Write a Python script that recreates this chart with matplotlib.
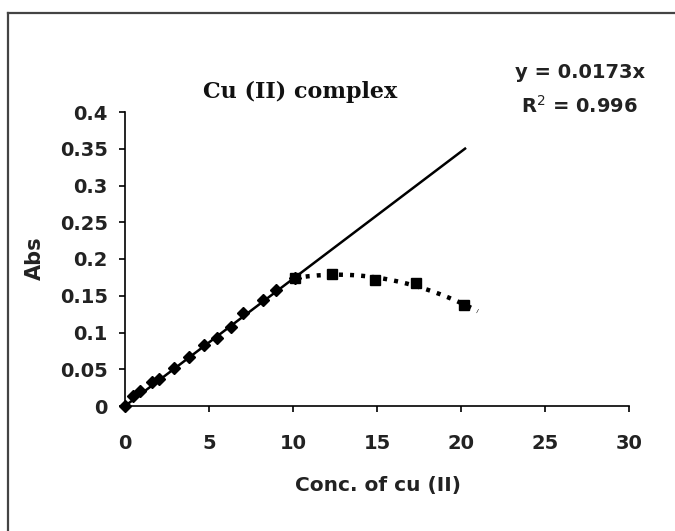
import numpy as np
import matplotlib
matplotlib.use("Agg")
import matplotlib.pyplot as plt
from matplotlib.lines import Line2D

# Calibration series (linear region)
conc_lin = [0, 0.5, 0.9, 1.6, 2.0, 2.9, 3.8, 4.7, 5.5, 6.3, 7.0, 8.2, 9.0, 10.1]
abs_lin = [0, 0.013, 0.020, 0.032, 0.037, 0.052, 0.066, 0.083, 0.092, 0.108,
           0.126, 0.144, 0.158, 0.174]

# High-concentration series (deviation from Beer's law)
conc_high = [10.1, 12.3, 14.9, 17.3, 20.2]
abs_high = [0.174, 0.180, 0.171, 0.167, 0.137]

slope = 0.0173
r_squared = 0.996
fit_x_end = 20.3
curve_x_end = 21.0

x_ticks = [0, 5, 10, 15, 20, 25, 30]
y_ticks = [0, 0.05, 0.1, 0.15, 0.2, 0.25, 0.3, 0.35, 0.4]
y_tick_labels = ["0", "0.05", "0.1", "0.15", "0.2", "0.25", "0.3", "0.35", "0.4"]

SANS = "DejaVu Sans"
SERIF = "DejaVu Serif"
TXT = "#222222"

W, H = 675, 531
fig = plt.figure(figsize=(W / 100, H / 100), dpi=100)
fig.patch.set_facecolor("white")

# Outer chart frame
fig.add_artist(Line2D([8 / W, 8 / W], [0, 1 - 13 / H], transform=fig.transFigure,
                      color="#444444", lw=1.6))
fig.add_artist(Line2D([8 / W, 1.0], [1 - 13 / H, 1 - 13 / H], transform=fig.transFigure,
                      color="#444444", lw=1.6))

x0, x1, ytop, ybot = 125, 629, 112, 406
ax = fig.add_axes([x0 / W, (H - ybot) / H, (x1 - x0) / W, (ybot - ytop) / H])
ax.set_xlim(0, 30)
ax.set_ylim(0, 0.4)

for s in ["top", "right"]:
    ax.spines[s].set_visible(False)
for s in ["left", "bottom"]:
    ax.spines[s].set_linewidth(1.2)
    ax.spines[s].set_color("black")

ax.set_xticks(x_ticks)
ax.set_yticks(y_ticks)
ax.set_yticklabels(y_tick_labels)
ax.tick_params(axis="both", direction="out", length=4.5, width=1.2, colors="black")
ax.tick_params(axis="x", pad=16)
ax.tick_params(axis="y", pad=8)
for lab in ax.get_xticklabels() + ax.get_yticklabels():
    lab.set_fontfamily(SANS)
    lab.set_fontweight("bold")
    lab.set_fontsize(14)
    lab.set_color(TXT)

# Linear regression line through the origin
fx = np.array([0, fit_x_end])
ax.plot(fx, slope * fx, color="black", lw=1.8, solid_capstyle="butt", zorder=3)

# Polynomial trend of the high-concentration points
coef = np.polyfit(conc_high, abs_high, 2)
cx = np.linspace(conc_high[0], curve_x_end, 200)
ax.plot(cx, np.polyval(coef, cx), color="black", lw=3.2,
        linestyle=(0, (0.9, 1.6)), dash_capstyle="butt", zorder=3)

ax.plot(conc_lin, abs_lin, linestyle="none", marker="D", markersize=6,
        color="black", zorder=4, clip_on=False)
ax.plot(conc_high, abs_high, linestyle="none", marker="s", markersize=6.5,
        color="black", zorder=4)

ax.set_xlabel("Conc. of cu (II)", fontfamily=SANS, fontweight="bold",
              fontsize=14.5, color=TXT, va="center")
ax.xaxis.set_label_coords((378 - x0) / (x1 - x0), (ybot - 486) / (ybot - ytop))
ax.set_ylabel("Abs", fontfamily=SANS, fontweight="bold",
              fontsize=15, color=TXT, va="center")
ax.yaxis.set_label_coords((35 - x0) / (x1 - x0), (ybot - 258) / (ybot - ytop))

fig.text(300 / W, 1 - 92 / H, "Cu (II) complex", fontfamily=SERIF,
         fontweight="bold", fontsize=16, ha="center", va="center", color="#111111")
fig.text(580 / W, 1 - 72 / H, f"y = {slope}x", fontfamily=SANS,
         fontweight="bold", fontsize=14, ha="center", va="center", color=TXT)
fig.text(580 / W, 1 - 106 / H, f"R$^2$ = {r_squared}", fontfamily=SANS,
         fontweight="bold", fontsize=14, ha="center", va="center", color=TXT)

fig.savefig("out.png", dpi=100, facecolor="white")
